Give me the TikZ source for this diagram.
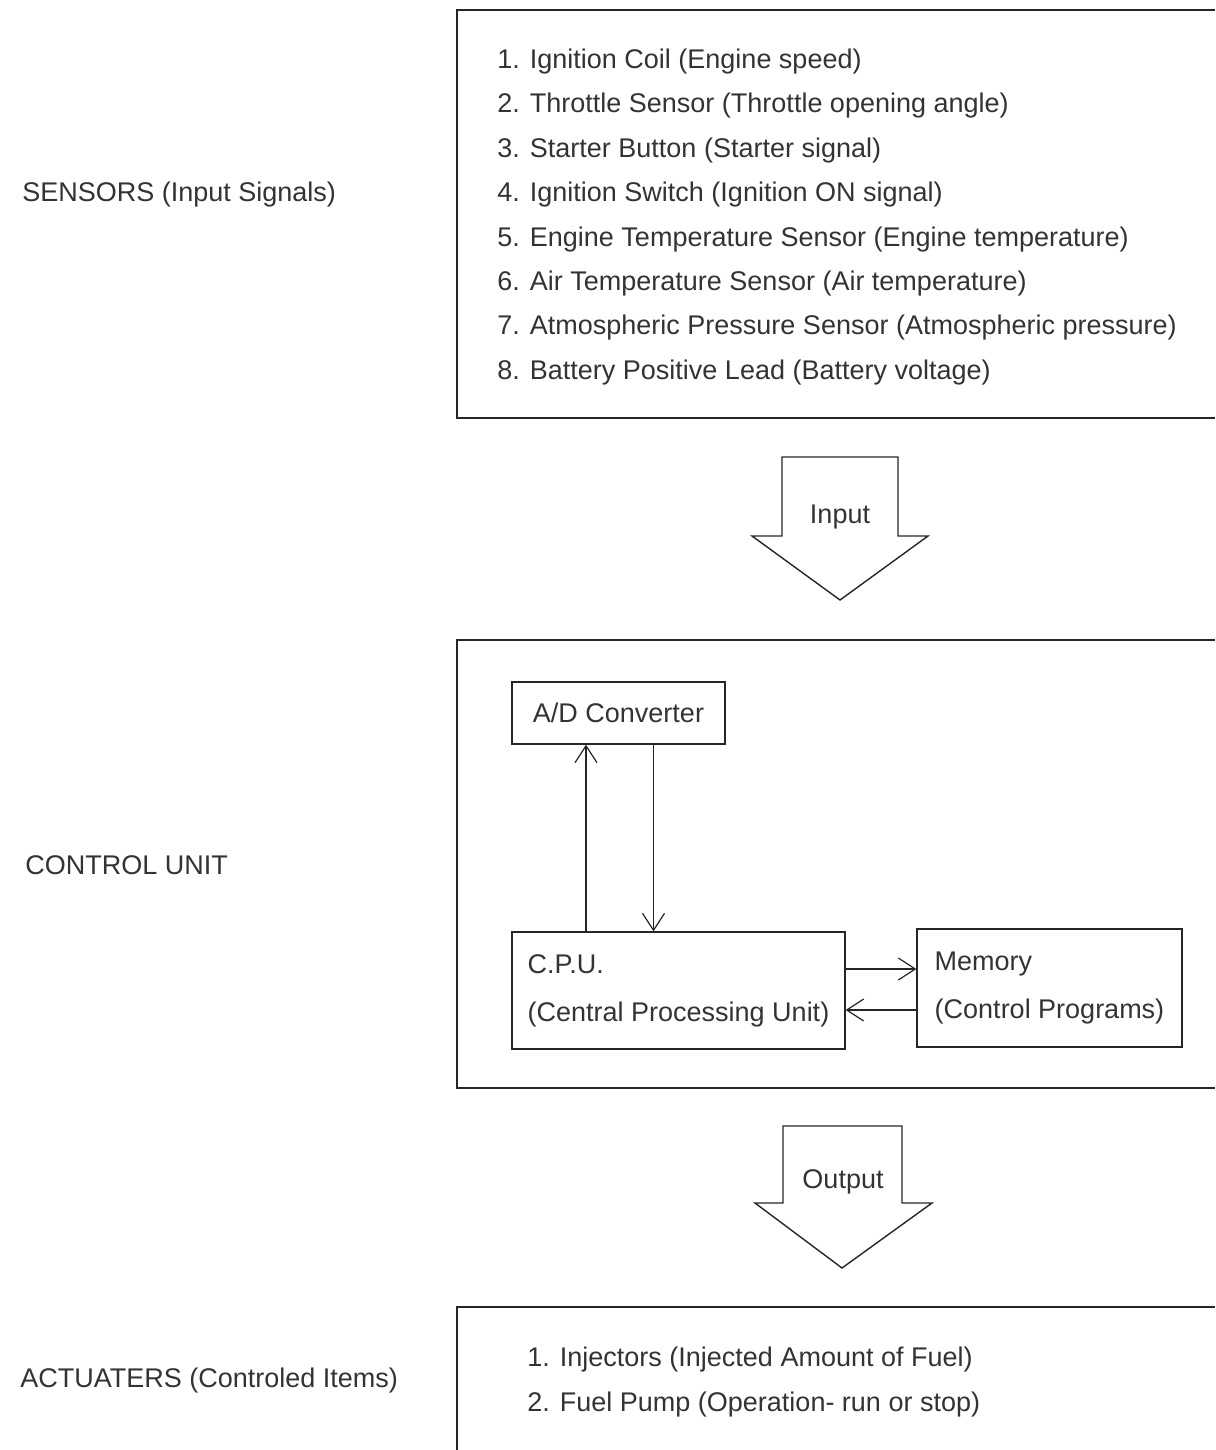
\documentclass[tikz,border=0pt]{standalone}
\usepackage{fontspec}
\setmainfont{Liberation Sans}
\usepackage{tikz}
\usetikzlibrary{arrows.meta}

\tikzset{
  frame/.style={draw=black!85,line width=.7pt},
  unit/.style={draw=black!85,line width=.6pt,align=left,inner sep=0pt,
    font=\fontsize{13.5}{24}\selectfont,text=black!80},
  txt/.style={anchor=west,inner sep=0pt,font=\fontsize{13.5}{16}\selectfont,text=black!80},
  sig/.style={draw=black!85,line width=.6pt,-{Straight Barb[length=8.5pt,width=11pt]}},
}

\begin{document}
\begin{tikzpicture}[x=.5pt,y=-.5pt]%
    \useasboundingbox (0,0) rectangle (1215,1450);%%
    % left labels
    \node[txt] (lsen) at (22,195) {SENSORS (Input Signals)};%%
    \node[txt] (lcon) at (25,865) {CONTROL UNIT};%%
    \node[txt] (lact) at (20,1380) {ACTUATERS (Controled Items)};%%
    % sensors
    \draw[frame] (1215,10) -- (457,10) -- (457,418) -- (1215,418);%%
    \node[txt] (s1) at (497,62)  {1. Ignition Coil (Engine speed)};%%
    \node[txt] (s2) at (497,106) {2. Throttle Sensor (Throttle opening angle)};%%
    \node[txt] (s3) at (497,151) {3. Starter Button (Starter signal)};%%
    \node[txt] (s4) at (497,195) {4. Ignition Switch (Ignition ON signal)};%%
    \node[txt] (s5) at (497,240) {5. Engine Temperature Sensor (Engine temperature)};%%
    \node[txt] (s6) at (497,284) {6. Air Temperature Sensor (Air temperature)};%%
    \node[txt] (s7) at (497,328) {7. Atmospheric Pressure Sensor (Atmospheric pressure)};%%
    \node[txt] (s8) at (497,373) {8. Battery Positive Lead (Battery voltage)};%%
    % input arrow
    \draw[frame] (782,457) -- (898,457) -- (898,536) -- (928,536) -- (840,600)
        -- (752,536) -- (782,536) -- cycle;%%
    \node[txt,anchor=center] (inp) at (840,517) {Input};%%
    % control unit
    \draw[frame] (1215,640) -- (457,640) -- (457,1088) -- (1215,1088);%%
    \node[unit,minimum width=106.5pt,minimum height=31pt] (ad) at (618.5,713) {A/D Converter};%%
    \node[unit,minimum width=166.5pt,minimum height=58.5pt] (cpu) at (678.5,990.5)
        {C.P.U.\\(Central Processing Unit)};%%
    \node[unit,minimum width=132.5pt,minimum height=59pt] (mem) at (1049.5,988)
        {Memory\\(Control Programs)};%%
    \coordinate (up) at (586,0);%%
    \coordinate (dn) at (653.5,0);%%
    \coordinate (hi) at (0,969);%%
    \coordinate (lo) at (0,1010);%%
    \draw[sig] (cpu.north -| up) -- (ad.south -| up);%%
    \draw[sig] (ad.south -| dn) -- (cpu.north -| dn);%%
    \draw[sig] (cpu.east |- hi) -- (mem.west |- hi);%%
    \draw[sig] (mem.west |- lo) -- (cpu.east |- lo);%%
    % output arrow
    \draw[frame] (783,1126) -- (902,1126) -- (902,1203) -- (932,1203) -- (842,1268)
        -- (755,1203) -- (783,1203) -- cycle;%%
    \node[txt,anchor=center] (outp) at (843,1182) {Output};%%
    % actuators
    \draw[frame] (1215,1307) -- (457,1307) -- (457,1450);%%
    \node[txt] (a1) at (527,1360) {1. Injectors (Injected Amount of Fuel)};%%
    \node[txt] (a2) at (527,1404) {2. Fuel Pump (Operation- run or stop)};%%
\end{tikzpicture}
\end{document}
